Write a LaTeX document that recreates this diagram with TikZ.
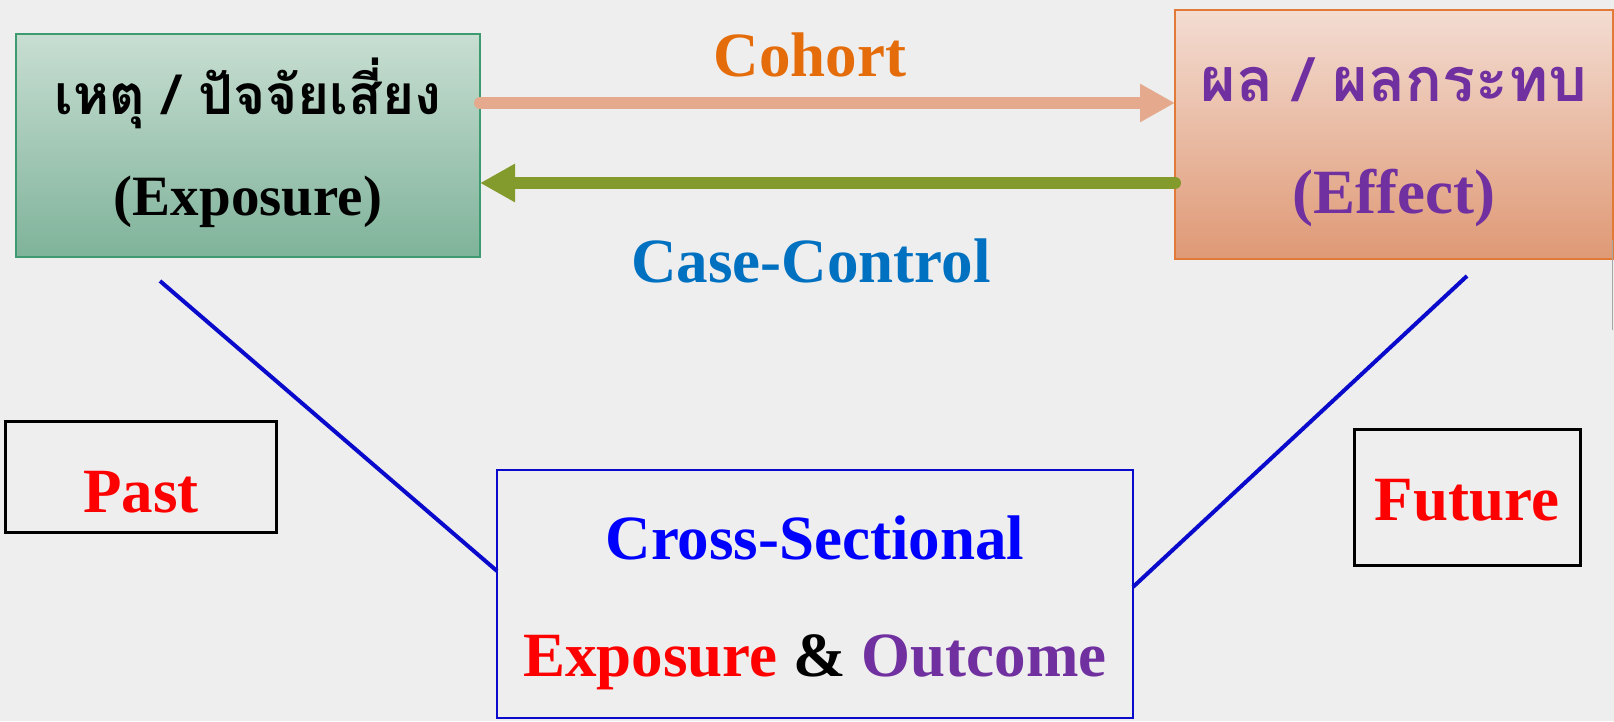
\documentclass[tikz,border=0pt]{standalone}
\usepackage{fontspec}
\setmainfont{Liberation Serif}
\newfontfamily\thaifont[Script=Thai]{Loma}
\usetikzlibrary{arrows.meta}

\definecolor{bgcol}{HTML}{EEEEEE}
\definecolor{expborder}{HTML}{3E9A70}
\definecolor{exptop}{HTML}{C8DED2}
\definecolor{expbot}{HTML}{7FB39A}
\definecolor{effborder}{HTML}{E07A36}
\definecolor{efftop}{HTML}{F3DCD2}
\definecolor{effbot}{HTML}{DF9975}
\definecolor{cohortcol}{HTML}{E46C0A}
\definecolor{cohortarr}{HTML}{E5A98E}
\definecolor{ccarr}{HTML}{839A2C}
\definecolor{cccol}{HTML}{0070C0}
\definecolor{purp}{HTML}{7030A0}
\definecolor{lineblue}{HTML}{0A0ACC}
\definecolor{textblue}{HTML}{0000FF}
\definecolor{textred}{HTML}{FF0000}

\begin{document}
\begin{tikzpicture}[x=1pt,y=1pt,
  every node/.style={inner sep=0pt, outer sep=0pt},
  bigtext/.style={anchor=base, font=\fontsize{63}{70}\selectfont\bfseries},
  thaitext/.style={anchor=base, font=\fontsize{55}{64}\thaifont\bfseries},
  plainbox/.style={draw, rectangle, line width=3pt},
  fatarrow/.style={line width=12pt, line cap=round,
    -{Triangle[length=35pt,width=36pt]}},
  slant/.style={draw=lineblue, line width=4pt}]

% page background
\fill[bgcol] (0,0) rectangle (1614,721);
\useasboundingbox (0,0) rectangle (1614,721);

% exposure and effect boxes
\node[draw=expborder, line width=2pt, top color=exptop, bottom color=expbot,
  minimum width=464pt, minimum height=223pt] (expbox) at (248,575.5) {};
\node[draw=effborder, line width=2.5pt, top color=efftop, bottom color=effbot,
  minimum width=438pt, minimum height=249pt] (effbox) at (1394,586.5) {};

\node[thaitext] (expthai) at ([yshift=30.5pt]expbox.center)
  {เหตุ / ปัจจัยเสี่ยง};
\node[bigtext, font=\fontsize{57}{64}\selectfont\bfseries] (expeng)
  at ([yshift=-70.5pt]expbox.center) {(Exposure)};
\node[thaitext, font=\fontsize{61}{70}\thaifont\bfseries, text=purp] (effthai)
  at ([yshift=32.5pt]effbox.center) {ผล / ผลกระทบ};
\node[bigtext, text=purp] (effeng) at ([yshift=-79.5pt]effbox.center)
  {(Effect)};

% study direction arrows
\draw[fatarrow, draw=cohortarr, fill=cohortarr]
  ([yshift=42.5pt]expbox.east) -- ([yshift=31.5pt]effbox.west);
\draw[fatarrow, draw=ccarr, fill=ccarr]
  ([yshift=-48.5pt]effbox.west) -- ([yshift=-37.5pt]expbox.east);
\node[bigtext, text=cohortcol] (cohort) at (810,644) {Cohort};
\node[bigtext, text=cccol] (casectl) at (811,438) {Case-Control};

% time labels
\node[plainbox, minimum width=271pt, minimum height=110pt] (pastbox) at (140.5,244) {};
\node[bigtext, text=textred] (past) at (141,209) {Past};
\node[plainbox, minimum width=226pt, minimum height=135pt] (futbox) at (1467,223.5) {};
\node[bigtext, text=textred] (future) at (1467,201) {Future};

% cross-sectional box
\node[draw=lineblue, line width=2.5pt, rectangle,
  minimum width=636pt, minimum height=248pt] (crossbox) at (815,127) {};
\node[bigtext, text=textblue] (crosstxt) at (815,162) {Cross-Sectional};
\node[bigtext] (expout) at (815,45)
  {\textcolor{textred}{Exposure} \& \textcolor{purp}{Outcome}};

\coordinate (ltop) at (160,440);
\coordinate (rtop) at (1467,445);
\draw[slant] (ltop) -- ([yshift=23pt]crossbox.west);
\draw[slant] (rtop) -- ([yshift=7pt]crossbox.east);

% faint edge at the right margin
\draw[gray!70, line width=1.5pt] (1612.5,481) -- (1612.5,391);
\end{tikzpicture}
\end{document}
